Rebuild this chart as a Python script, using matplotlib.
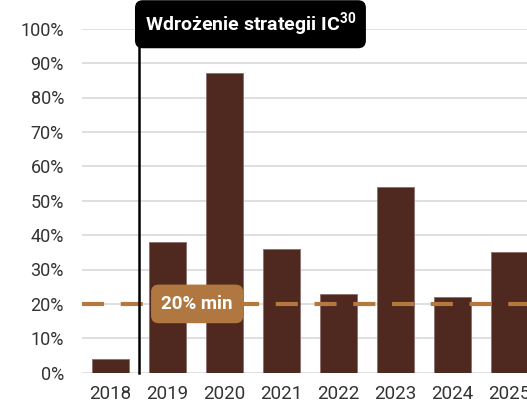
import matplotlib
matplotlib.use("Agg")
import matplotlib.pyplot as plt
from matplotlib.ticker import FuncFormatter, MultipleLocator

years = ["2018", "2019", "2020", "2021", "2022", "2023", "2024", "2025"]
values = [4, 38, 87, 36, 23, 54, 22, 35]
threshold = 20
threshold_label = "20% min"
event_label = "Wdrożenie strategii IC$^{\\mathbf{30}}$"

plt.rcParams["font.family"] = ["Roboto", "DejaVu Sans"]
plt.rcParams["mathtext.fontset"] = "custom"
plt.rcParams["mathtext.bf"] = "Roboto:bold"
plt.rcParams["mathtext.rm"] = "Roboto"

W, H = 527, 403
fig = plt.figure(figsize=(W / 100, H / 100), dpi=100)
ax = fig.add_axes([82 / W, 1 - 372.7 / H, 456 / W, (372.7 - 28.7) / H])

x = list(range(len(years)))
ax.bar(x, values, width=0.64, color="#4F2820", edgecolor="#8C6E69", linewidth=0.6, zorder=3)

ax.set_xlim(-0.5, len(years) - 0.5)
ax.set_ylim(0, 100)
ax.yaxis.set_major_locator(MultipleLocator(10))
ax.yaxis.set_major_formatter(FuncFormatter(lambda v, p: f"{v:.0f}%"))
ax.set_xticks(x)
ax.set_xticklabels(years)
ax.grid(axis="y", color="#DCDCDC", linewidth=1.3, zorder=0)
for s in ax.spines.values():
    s.set_visible(False)
ax.tick_params(axis="both", length=0, colors="#333333")
ax.tick_params(axis="y", labelsize=13, pad=13)
ax.tick_params(axis="x", labelsize=13.5, pad=9)

ax.axhline(threshold, color="#B5793F", linewidth=3, dashes=(5.3, 4), zorder=4)

ax.text(1.52, threshold, threshold_label, ha="center", va="center", color="white",
        fontsize=13.5, fontweight="bold", zorder=6,
        bbox=dict(boxstyle="round,pad=0.55,rounding_size=0.4", fc="#B07840", ec="none"))

ax.plot([0.5, 0.5], [0, 99], color="black", linewidth=1.8, zorder=5, clip_on=False)
ax.text(0.6, 101.3, event_label, ha="left", va="center", color="white",
        fontsize=14, fontweight="bold", zorder=6, clip_on=False,
        bbox=dict(boxstyle="round,pad=0.5,rounding_size=0.4", fc="black", ec="none"))

fig.savefig("out.png", dpi=100)
